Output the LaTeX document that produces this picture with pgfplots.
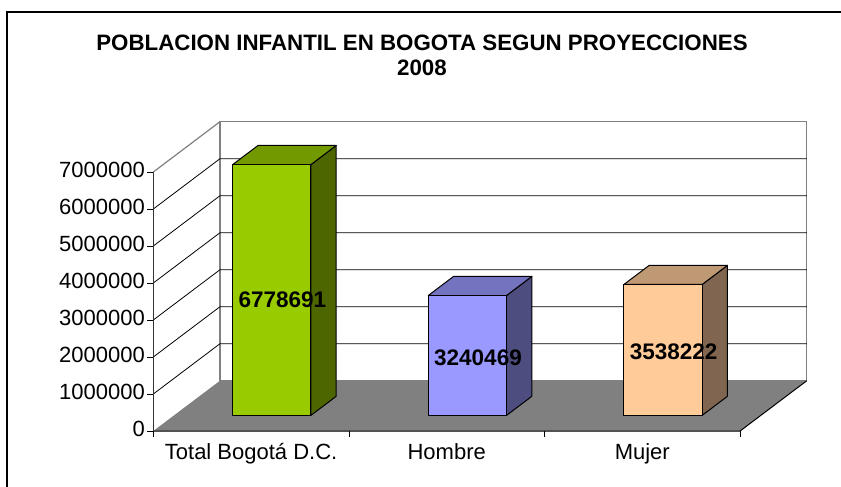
\documentclass[border=0pt]{standalone}
\usepackage{fontspec}
\setmainfont{Liberation Sans}
\usepackage{pgfplots}
\pgfplotsset{compat=1.18}
\definecolor{floorc}{HTML}{808080}
\definecolor{wallc}{HTML}{808080}
\definecolor{gfront}{HTML}{99CC00}
\definecolor{gtop}{HTML}{739900}
\definecolor{gside}{HTML}{4D6600}
\definecolor{bfront}{HTML}{9999FF}
\definecolor{btop}{HTML}{7373BF}
\definecolor{bside}{HTML}{4D4D80}
\definecolor{ofront}{HTML}{FFCC99}
\definecolor{otop}{HTML}{BF9973}
\definecolor{oside}{HTML}{806650}
% oblique projection of (x = category position, d = depth 0..1, v = value)
\pgfplotsset{table/proj/.style={x expr=\thisrow{x}+0.341*\thisrow{d}, y expr=\thisrow{v}+1359500*\thisrow{d}}}
\begin{document}
\begin{tikzpicture}
\useasboundingbox (0,0) rectangle (841pt,-487pt);
\fill[white] (0,0) rectangle (841pt,-487pt);
\draw[line width=2pt] (6.7pt,-490pt) -- (6.7pt,-12pt) -- (845pt,-12pt);
\node[anchor=base, font=\bfseries\fontsize{22.3}{26}\selectfont] at (422pt,-51pt) {POBLACION INFANTIL EN BOGOTA SEGUN PROYECCIONES};
\node[anchor=base, font=\bfseries\fontsize{22.3}{26}\selectfont] at (422pt,-76pt) {2008};
\begin{axis}[
  at={(153.3pt,-431pt)}, anchor=south west,
  scale only axis, width=653.5pt, height=309.3pt,
  xmin=0, xmax=3.341, ymin=0, ymax=8359500,
  clip=false,
  axis x line*=bottom, axis y line*=left,
  axis line style={draw=none},
  tick align=outside, major tick length=6pt,
  tick style={black, line width=0.8pt},
  xtick={0,1,2,3}, xticklabels={},
  extra x ticks={0.5,1.5,2.5},
  extra x tick labels={Total Bogotá D.C., Hombre, Mujer},
  extra x tick style={major tick length=0pt, xticklabel style={yshift=-7pt}},
  typeset ticklabels with strut,
  ytick={0,1000000,2000000,3000000,4000000,5000000,6000000,7000000},
  yticklabels={0,1000000,2000000,3000000,4000000,5000000,6000000,7000000},
  yticklabel style={xshift=1pt},
  scaled y ticks=false,
  tick label style={font=\fontsize{22}{26}\selectfont},
]
% back wall
\addplot[draw=wallc, fill=white, line width=1.2pt] table[proj]{
x d v
0 1 0
3 1 0
3 1 7000000
0 1 7000000
} --cycle;
% grid lines on left and back walls
\addplot[black, line width=0.8pt] table[proj]{
x d v
0 0 1000000
0 1 1000000
3 1 1000000
};
\addplot[black, line width=0.8pt] table[proj]{
x d v
0 0 2000000
0 1 2000000
3 1 2000000
};
\addplot[black, line width=0.8pt] table[proj]{
x d v
0 0 3000000
0 1 3000000
3 1 3000000
};
\addplot[black, line width=0.8pt] table[proj]{
x d v
0 0 4000000
0 1 4000000
3 1 4000000
};
\addplot[black, line width=0.8pt] table[proj]{
x d v
0 0 5000000
0 1 5000000
3 1 5000000
};
\addplot[black, line width=0.8pt] table[proj]{
x d v
0 0 6000000
0 1 6000000
3 1 6000000
};
\addplot[wallc, line width=1.2pt] table[proj]{
x d v
0 0 7000000
0 1 7000000
};
% floor
\addplot[fill=floorc, draw=none] table[proj]{
x d v
0 0 0
3 0 0
3 1 0
0 1 0
} --cycle;
\addplot[black, line width=1pt] table[proj]{
x d v
0 0 0
3 0 0
3 1 0
};
% front value axis line
\addplot[black!80, line width=1pt] table[proj]{
x d v
0 0 0
0 0 7000000
};
% ---- Total Bogota D.C.
\addplot[fill=gside, draw=black, line width=1pt, line join=round] table[proj]{
x d v
0.7 0.31 0
0.7 0.69 0
0.7 0.69 6778691
0.7 0.31 6778691
} --cycle;
\addplot[fill=gtop, draw=black, line width=1pt, line join=round] table[proj]{
x d v
0.3 0.31 6778691
0.7 0.31 6778691
0.7 0.69 6778691
0.3 0.69 6778691
} --cycle;
\addplot[fill=gfront, draw=black, line width=1pt, line join=round] table[proj]{
x d v
0.3 0.31 0
0.7 0.31 0
0.7 0.31 6778691
0.3 0.31 6778691
} --cycle;
% ---- Hombre
\addplot[fill=bside, draw=black, line width=1pt, line join=round] table[proj]{
x d v
1.7 0.31 0
1.7 0.69 0
1.7 0.69 3240469
1.7 0.31 3240469
} --cycle;
\addplot[fill=btop, draw=black, line width=1pt, line join=round] table[proj]{
x d v
1.3 0.31 3240469
1.7 0.31 3240469
1.7 0.69 3240469
1.3 0.69 3240469
} --cycle;
\addplot[fill=bfront, draw=black, line width=1pt, line join=round] table[proj]{
x d v
1.3 0.31 0
1.7 0.31 0
1.7 0.31 3240469
1.3 0.31 3240469
} --cycle;
% ---- Mujer
\addplot[fill=oside, draw=black, line width=1pt, line join=round] table[proj]{
x d v
2.7 0.31 0
2.7 0.69 0
2.7 0.69 3538222
2.7 0.31 3538222
} --cycle;
\addplot[fill=otop, draw=black, line width=1pt, line join=round] table[proj]{
x d v
2.3 0.31 3538222
2.7 0.31 3538222
2.7 0.69 3538222
2.3 0.69 3538222
} --cycle;
\addplot[fill=ofront, draw=black, line width=1pt, line join=round] table[proj]{
x d v
2.3 0.31 0
2.7 0.31 0
2.7 0.31 3538222
2.3 0.31 3538222
} --cycle;
% value labels
\addplot[draw=none, nodes near coords, point meta=explicit symbolic,
  nodes near coords style={font=\bfseries\fontsize{22.5}{26}\selectfont, anchor=center, text=black}]
  table[x expr=\thisrow{x}+0.16, y expr=\thisrow{v}/2+421445+\thisrow{off}, meta=v]{
x v off
0.5 6778691 -270000
1.5 3240469 -60000
2.5 3538222 -60000
};
\end{axis}
\end{tikzpicture}
\end{document}
